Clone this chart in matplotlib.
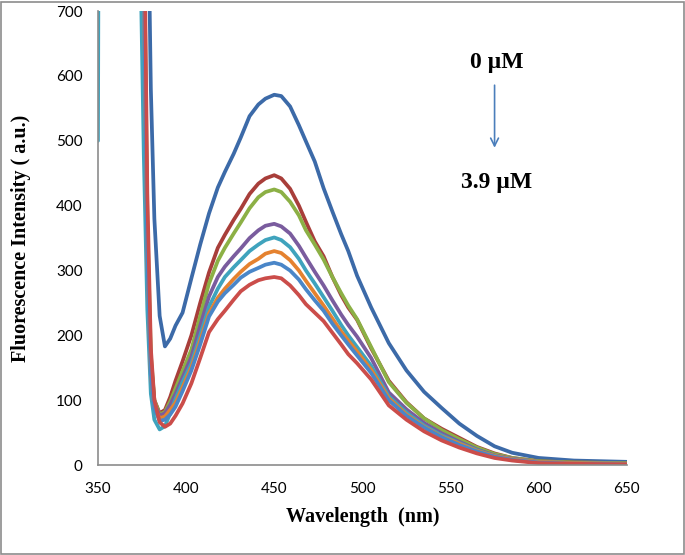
import matplotlib
matplotlib.use("Agg")
import matplotlib.pyplot as plt
from matplotlib.patches import Rectangle

# wavelength grid (nm)
wl = [350, 351, 370, 374, 376, 378, 380, 382, 385, 388, 391, 394, 398, 403, 408, 413,
      418, 422, 427, 431, 436, 441, 445, 450, 454, 459, 464, 468, 473, 478, 483, 488,
      492, 497, 505, 515, 525, 535, 545, 555, 565, 575, 585, 600, 620, 650]

# fluorescence intensity, 0 uM -> 3.9 uM
s0 = [1500, 1500, 1500, 1500, 1300, 950, 580, 380, 230, 183, 195, 215, 235, 288, 340, 388,
      428, 452, 480, 505, 538, 556, 565, 571, 569, 553, 524, 499, 468, 427, 391, 356,
      330, 292, 243, 188, 146, 113, 88, 64, 45, 29, 19, 11, 7, 5]
s1 = [1500, 1500, 1500, 1200, 800, 350, 160, 100, 80, 85, 105, 130, 160, 200, 250, 297,
      335, 355, 378, 395, 418, 434, 442, 447, 442, 426, 400, 375, 345, 322, 290, 262,
      243, 224, 180, 130, 97, 72, 56, 42, 28, 18, 11, 6, 4, 3]
s2 = [1500, 1500, 1500, 1300, 850, 380, 170, 100, 78, 82, 98, 118, 145, 178, 230, 280,
      315, 335, 357, 374, 396, 413, 421, 425, 421, 406, 385, 362, 340, 317, 290, 265,
      246, 225, 182, 128, 96, 72, 54, 40, 27, 17, 11, 6, 4, 3]
s3 = [1500, 1500, 1500, 1200, 780, 330, 150, 95, 76, 80, 93, 110, 135, 167, 215, 260,
      290, 306, 322, 334, 350, 362, 369, 372, 368, 357, 338, 320, 298, 277, 254, 232,
      216, 198, 165, 112, 86, 65, 49, 36, 24, 15, 10, 5, 3, 2]
s4 = [500, 1500, 1500, 800, 480, 240, 110, 70, 55, 60, 80, 102, 128, 157, 200, 244,
      272, 290, 305, 316, 330, 340, 347, 351, 347, 336, 318, 300, 280, 259, 238, 216,
      200, 182, 153, 106, 81, 61, 46, 34, 23, 14, 9, 5, 3, 2]
s5 = [1500, 1500, 1500, 1200, 750, 320, 140, 90, 72, 75, 85, 96, 120, 151, 192, 234,
      258, 272, 287, 298, 310, 318, 326, 330, 327, 316, 300, 284, 265, 246, 226, 206,
      192, 175, 147, 103, 78, 59, 44, 33, 22, 14, 9, 5, 3, 2]
s6 = [1500, 1500, 1500, 1200, 760, 320, 140, 88, 68, 70, 78, 90, 114, 146, 186, 229,
      252, 265, 278, 289, 298, 304, 309, 312, 309, 300, 286, 271, 254, 238, 218, 200,
      186, 169, 142, 100, 76, 58, 43, 31, 21, 13, 8, 4, 2, 1]
s7 = [1500, 1500, 1500, 1300, 900, 420, 180, 100, 66, 59, 64, 76, 95, 126, 165, 205,
      225, 238, 255, 268, 278, 285, 288, 290, 288, 277, 262, 248, 235, 222, 204, 186,
      171, 157, 132, 92, 70, 52, 38, 27, 18, 11, 7, 3, 2, 1]

series = [s0, s1, s2, s3, s4, s5, s6, s7]
colors = ["#3C6AA8", "#A83E3A", "#8CB045", "#7A5C9E", "#3FA3BD", "#E5822F", "#4A86C8", "#CB4D4A"]

xticks = [350, 400, 450, 500, 550, 600, 650]
yticks = [0, 100, 200, 300, 400, 500, 600, 700]


def dibujar():
    fig = plt.figure(figsize=(6.85, 5.55), dpi=100)
    ax = fig.add_axes([0.143, 0.162, 0.772, 0.818])

    for s, c in zip(series, colors):
        ax.plot(wl, s, color=c, lw=2.7, solid_capstyle="round", solid_joinstyle="round")

    ax.set_xlim(350, 650)
    ax.set_ylim(0, 700)
    ax.set_xticks(xticks)
    ax.set_yticks(yticks)
    ax.tick_params(length=0, labelsize=11)
    ax.tick_params(axis="x", pad=12)
    ax.tick_params(axis="y", pad=11)
    for lab in ax.get_xticklabels() + ax.get_yticklabels():
        lab.set_fontfamily("Lato")

    for side in ["top", "right"]:
        ax.spines[side].set_visible(False)
    for side in ["left", "bottom"]:
        ax.spines[side].set_color("#8C8C8C")
        ax.spines[side].set_linewidth(1.2)

    ax.set_xlabel("Wavelength  (nm)", family="Liberation Serif", weight="bold", fontsize=14.5, labelpad=8)
    ax.set_ylabel("Fluorescence Intensity ( a.u.)", family="Liberation Serif", weight="bold",
                  fontsize=14.5, labelpad=18)

    ax.text(576, 621, "0 µM", family="Liberation Serif", weight="bold", fontsize=17,
            ha="center", va="center")
    ax.text(576, 436, "3.9 µM", family="Liberation Serif", weight="bold", fontsize=17,
            ha="center", va="center")
    ax.annotate("", xy=(575, 485), xytext=(575, 590),
                arrowprops=dict(arrowstyle="->", color="#4A7EBB", lw=1.2, mutation_scale=14))

    fig.patches.append(Rectangle((0.002, 0.002), 0.996, 0.995, transform=fig.transFigure,
                                 fill=False, edgecolor="#8C8C8C", lw=1.2))

    fig.savefig("out.png", dpi=100)


if __name__ == "__main__":
    dibujar()
